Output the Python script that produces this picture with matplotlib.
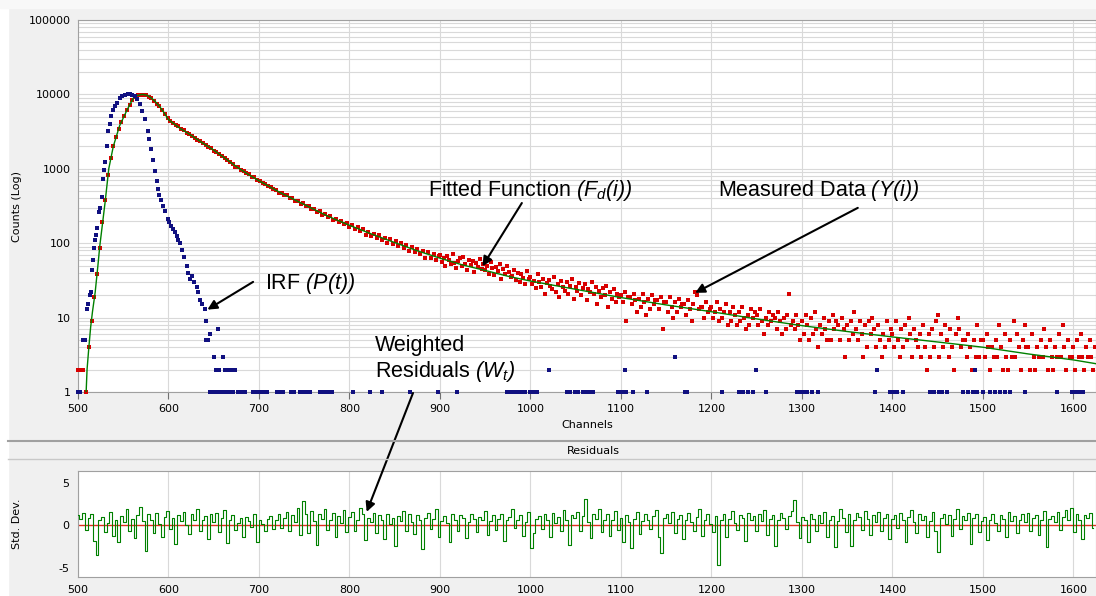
import numpy as np
import matplotlib.pyplot as plt
from matplotlib.patches import Rectangle
from matplotlib.lines import Line2D
from matplotlib.ticker import LogLocator, NullFormatter, FuncFormatter

# math parts of the labels are all italic in the original
plt.rcParams['mathtext.fontset'] = 'custom'
plt.rcParams['mathtext.rm'] = 'Liberation Sans:italic'
plt.rcParams['mathtext.it'] = 'Liberation Sans:italic'
plt.rcParams['axes.unicode_minus'] = False

# fitted function F_d(i)
fit_ch = [509, 510, 512, 514, 516, 519, 522, 524, 527, 530, 534, 539, 546, 554, 561, 566, 571, 576, 580, 585,
          590, 595, 600, 612, 625, 637, 650, 662, 675, 687, 700, 725, 750, 775, 800, 825, 850, 875, 900, 925,
          950, 975, 1000, 1050, 1100, 1150, 1200, 1250, 1300, 1350, 1400, 1450, 1500, 1550, 1600, 1625]
fit_val = [1, 2, 4, 7.5, 12, 22, 50, 90, 180, 360, 1000, 2000, 3800, 6100, 8900, 9700, 10000, 9750, 9120, 8100,
           6920, 5700, 4570, 3550, 2820, 2250, 1780, 1400, 1070, 860, 690, 468, 331, 234, 174, 132, 102, 79, 63, 51,
           43, 36, 31, 24, 18.6, 14.8, 12, 9.6, 7.8, 6.5, 5.5, 4.7, 4.0, 3.25, 2.7, 2.4]

# measured data Y(i): every 3rd channel from 500, then every 2nd channel from 900
meas_head = """
2 2 2 1 4 9 19 38 85 190 380 820 1400 2050 2700 3450 4300 5200 6150 7300 8500 9200 9750 9950 9900
9700 9300 8850 8200 7500 6950 6100 5400 4780 4380 4170 3880 3720 3470 3310 3060 2950 2790 2600 2470
2360 2190 2120 1960 1900 1760 1690 1560 1490 1380 1330 1220 1170 1070 1050 970 945 870 850 780 770 700
695 640 632 580 575 528 525 480 478 440 440 402 405 370 373 340 343 312 318 286 292 263 270 243 248 224
230 207 214 192 200 180 186 167 174 157 164 145 153 128 143 126 135 117 127 112 119 100 113 98 106 91
100 86 95 78 89 75 84 71 79 63 76 64 71 60 67
"""
meas_tail = """
70 56 64 50 67 60 52 71 55 47 58 63 49 66 53 44 60 51 57 41 55 48 61 45 52 43 50 39 56 46 37 48 42 53 33 45 38 49 41 35 36 44 32 40 30 38 34 28 42 33
35 28 31 25 38 30 26 33 21 29 32 27 24 35 22 28 19 31 26 23 30 21 27 33 18 26 23 29 20 25 28 17 24 22 30 21 26 15 23 19 25 20 27 14 22 18 24 16 21 19
20 16 22 9 19 19 15 21 17 12 18 14 21 16 11 18 13 20 15 17 17 13 19 7 16 16 12 19 14 10 16 12 18 14 15 15 11 17 13 9 15 22 20 13 14 14 10 16 12 13
14 10 12 16 9 13 10 12 15 8 12 9 14 11 8 12 9 14 10 7 11 8 13 10 12 11 8 13 9 6 10 8 12 9 11 10 7 12 9 6 10 7 11 21 8 9 7 11 8 5
9 6 11 8 5 10 6 12 7 4 8 6 10 7 5 9 5 11 7 9 8 5 10 7 3 8 5 9 6 12 7 5 9 6 3 8 4 9 6 10 7 4 8 5 3 6 4 9 5 7
6 4 9 5 3 7 4 8 5 10 6 3 7 5 4 6 3 8 4 2 6 3 7 4 9 11 3 6 4 8 5 3 7 4 2 6 10 7 4 5 5 3 6 4 2 5 3 8 3 5
5 3 6 4 2 4 3 5 3 8 4 2 6 3 2 5 3 9 3 6 4 2 5 8 4 4 2 6 3 2 4 3 5 3 7 4 2 5 3 2 4 3 6 3 8 4 2 5 3 3
4 2 5 3 6 3 2 4 3 5 3 2 4
"""
meas_head_val = np.array(meas_head.split(), dtype=float)
meas_tail_val = np.array(meas_tail.split(), dtype=float)
meas_head_ch = 500 + 3 * np.arange(len(meas_head_val))
meas_tail_ch = 900 + 2 * np.arange(len(meas_tail_val))

# instrument response P(t)
irf_ch = [500, 501, 502, 506, 507, 508, 510, 511, 513, 514, 516, 517, 518, 519, 520, 521, 523, 524, 526, 528,
          529, 530, 532, 533, 535, 537, 539, 541, 543, 546, 549, 552, 555, 557, 560, 563, 565, 568, 571, 574,
          577, 579, 581, 583, 585, 587, 588, 590, 592, 594, 596, 599, 601, 603, 605, 607, 609, 611, 613, 615,
          617, 620, 622, 624, 626, 628, 631, 633, 635, 637, 640, 641, 642, 644, 646, 650, 652, 655, 656, 660,
          663, 667, 670, 673]
irf_val = [1, 1, 1, 5, 5, 5, 13, 15, 20, 22, 44, 60, 85, 110, 130, 160, 260, 300, 420, 730,
           950, 1250, 2000, 3200, 4000, 5200, 6100, 6900, 7700, 8900, 9400, 9800, 10000, 10000, 9800, 9500, 8800, 7500, 6000, 4700,
           3200, 2500, 1850, 1300, 920, 680, 540, 440, 380, 320, 270, 210, 190, 170, 155, 140, 125, 110, 100, 80,
           65, 49, 40, 33, 36, 30, 26, 22, 17.5, 15, 13, 9, 5, 5, 6, 3, 2, 7, 2, 3,
           2, 2, 2, 2]
# single counts of the IRF along the baseline
irf_ones = [646, 648, 649, 651, 653, 654, 657, 659, 661, 664, 666, 668, 671, 677, 679, 682, 685, 693, 695, 698,
            701, 704, 706, 709, 720, 723, 727, 735, 739, 745, 748, 752, 756, 767, 771, 775, 778, 781, 804, 823,
            836, 867, 898, 919, 974, 978, 982, 986, 990, 994, 1000, 1004, 1007, 1040, 1044, 1049, 1053, 1058, 1062, 1066,
            1069, 1097, 1101, 1106, 1113, 1129, 1171, 1173, 1212, 1231, 1235, 1240, 1246, 1260, 1295, 1299, 1303, 1306, 1311, 1318,
            1381, 1397, 1401, 1405, 1412, 1442, 1446, 1451, 1455, 1460, 1478, 1483, 1489, 1494, 1500, 1508, 1513, 1519, 1524, 1530,
            1546, 1582, 1598, 1603, 1607, 1611]
irf_few_ch = [1021, 1104, 1160, 1249, 1383, 1491]
irf_few_val = [2, 2, 3, 2, 2, 2]

# weighted residuals, every 3rd channel from 500
resid = """
1.2 0.8 1.5 -0.5 0.9 1.4 -1.8 -3.5 0.6 1.0 -0.8 0.3 1.6 -1.2 0.7 -2.0 1.1 0.4 1.9 -0.6 0.8 -1.5 1.2 2.2 0.5
-3.0 1.3 0.6 -0.9 1.5 0.2 -1.4 1.0 1.7 -0.4 0.9 -2.2 1.2 0.5 1.6 0.1 -1.0 1.4 0.7 1.9 -0.7 0.6 1.1 -1.6 1.3
0.4 1.5 -0.8 0.9 1.8 -2.1 0.6 1.2 -0.5 0.3 0.9 -1.3 1.0 0.5 -0.2 1.4 -1.9 0.7 0.2 -0.6 0.8 1.1 -0.4 0.6 1.3
-0.3 0.9 1.6 -0.7 1.2 0.4 2.0 -1.1 2.9 1.4 -0.9 1.7 0.5 -2.3 1.3 0.8 1.9 -0.5 0.6 1.5 -1.4 1.1 0.3 1.8 -0.8
1.0 1.6 -0.6 0.7 2.1 1.3 -1.7 0.9 0.4 1.5 -0.9 1.2 0.6 -1.6 1.4 0.2 0.9 -2.4 1.1 0.5 1.7 -0.7 1.3 0.4 -1.0
1.2 0.6 -2.8 0.9 1.5 -0.4 0.8 1.9 -1.3 0.5 1.1 0.3 -2.0 1.4 0.7 -0.6 1.2 0.9 -1.5 0.4 1.3 0.8 -0.8 1.0 0.6
1.7 -1.1 0.5 1.2 -0.5 0.8 1.4 -1.8 0.6 1.0 1.9 -0.3 0.7 1.2 -1.2 0.4 1.6 -2.6 -0.9 0.8 1.1 -0.4 1.3 0.6 -1.4
1.5 0.3 1.0 -0.7 1.8 0.6 -2.3 1.2 0.9 1.6 -0.6 1.1 3.1 0.4 -1.5 1.3 0.8 1.9 -0.8 0.6 1.4 -1.2 0.7 1.7 -0.5
0.9 -1.9 1.2 0.4 -2.6 0.8 1.6 -1.0 0.5 1.3 0.7 -0.4 1.1 1.8 -1.3 -3.2 0.9 1.4 0.3 1.6 -0.9 0.8 1.2 -1.6 0.6
1.5 0.4 -0.6 1.0 1.9 -1.2 0.7 1.3 0.2 -0.8 1.1 -4.6 0.6 1.4 -1.4 0.8 1.7 0.3 -0.5 1.2 0.9 -1.8 1.5 0.6 1.1
-0.7 1.3 0.5 1.8 -1.1 0.8 1.2 -2.4 0.6 1.5 0.9 -0.4 1.1 1.7 3.0 0.4 -1.5 1.0 0.6 -2.0 1.4 0.8 -0.6 1.2 0.3
1.6 -1.3 0.7 1.1 -2.5 0.5 1.9 0.9 -0.8 1.3 -2.4 0.6 1.5 1.0 -0.5 1.7 0.8 -1.1 1.2 0.4 1.6 -0.7 0.9 1.4 -1.6
0.8 1.2 -0.3 1.5 0.6 -1.9 1.0 1.8 0.4 -0.9 1.3 0.7 1.1 -1.4 0.5 1.6 -0.6 -3.1 0.9 1.4 0.2 1.2 -1.2 0.8 1.9
-0.4 1.1 0.6 1.5 -2.2 0.9 1.3 -0.8 0.5 1.0 -1.7 0.7 1.4 0.3 -0.6 1.2 0.8 -1.3 1.6 0.5 1.1 -0.9 0.7 1.3 0.4
1.5 -0.7 0.9 1.2 -1.1 0.6 1.7 -2.5 0.8 1.1 0.4 1.6 -0.5 1.0 1.8 0.6 2.1 -0.8 1.3 0.7 -1.6 1.2 0.9 1.5 -0.3
"""
resid_val = np.array(resid.split(), dtype=float)
resid_ch = 500 + 3 * np.arange(len(resid_val))

xticks = list(range(500, 1601, 100))
red = '#d80000'
navy = '#101080'
green = '#008000'
gridc = '#d9d9d9'
spinec = '#a0a0a0'

W, H = 1096, 596
fig = plt.figure(figsize=(W / 100, H / 100), dpi=100, facecolor='#f0f0f0')
fig.patches.append(Rectangle((0, 0), 8 / W, 1, transform=fig.transFigure, color='white', zorder=-5))
fig.patches.append(Rectangle((0, 1 - 8 / H), 1, 8 / H, transform=fig.transFigure, color='#f8f8f8', zorder=-5))

# ---- decay panel ----
ax = fig.add_axes([78 / W, 1 - 392 / H, 1018 / W, 372 / H])
ax.set_facecolor('white')
ax.set_yscale('log')
ax.set_xlim(500, 1625)
ax.set_ylim(1, 1e5)

ax.plot(meas_head_ch, meas_head_val, 's', color=red, ms=2.6, mew=0, clip_on=False, zorder=3)
ax.plot(meas_tail_ch, meas_tail_val, 's', color=red, ms=2.6, mew=0, clip_on=False, zorder=3)
ax.plot(fit_ch, fit_val, color=green, lw=1.0, zorder=4)
ax.plot(irf_ch, irf_val, 's', color=navy, ms=2.6, mew=0, clip_on=False, zorder=5)
ax.plot(irf_ones, np.ones(len(irf_ones)), 's', color=navy, ms=2.6, mew=0, clip_on=False, zorder=5)
ax.plot(irf_few_ch, irf_few_val, 's', color=navy, ms=2.6, mew=0, clip_on=False, zorder=5)

ax.set_xticks(xticks)
ax.yaxis.set_major_locator(LogLocator(base=10, numticks=10))
ax.yaxis.set_minor_locator(LogLocator(base=10, subs=np.arange(2, 10), numticks=50))
ax.yaxis.set_major_formatter(FuncFormatter(lambda v, p: '%d' % round(v)))
ax.yaxis.set_minor_formatter(NullFormatter())
ax.grid(True, axis='x', color=gridc, lw=0.8)
ax.grid(True, axis='y', which='both', color=gridc, lw=0.8)
ax.set_axisbelow(True)
ax.tick_params(axis='x', direction='out', length=5, width=0.8, color='#707070', pad=4, labelsize=8)
ax.tick_params(axis='y', which='both', length=0, pad=5, labelsize=8)
for s in ax.spines.values():
    s.set_color(spinec)
    s.set_linewidth(0.8)
ax.set_xlabel('Channels', fontsize=8, labelpad=4)
ax.set_ylabel('Counts (Log)', fontsize=8)
ax.yaxis.set_label_coords(-0.055, 0.5)

tfont = dict(family='Liberation Sans', fontsize=15.5, va='center', ha='left', transform=ax.transAxes)
arrow = dict(arrowstyle='-|>', color='black', lw=1.5, mutation_scale=14, shrinkA=0, shrinkB=0)
ax.text(0.344, 0.543, r'Fitted Function $(F_d(i))$', **tfont)
ax.annotate('', xy=(947, 49), xytext=(0.436, 0.508), textcoords='axes fraction', arrowprops=arrow)
ax.text(0.629, 0.543, r'Measured Data $(Y(i))$', **tfont)
ax.annotate('', xy=(1182, 21.5), xytext=(0.766, 0.495), textcoords='axes fraction', arrowprops=arrow)
ax.text(0.184, 0.293, r'IRF $(P(t))$', **tfont)
ax.annotate('', xy=(643, 12.8), xytext=(0.172, 0.296), textcoords='axes fraction', arrowprops=arrow)
ax.text(0.292, 0.124, 'Weighted', **tfont)
ax.text(0.292, 0.054, r'Residuals $(W_t)$', **tfont)

# header strip between the panels
fig.add_artist(Line2D([8 / W, 1], [1 - 441 / H] * 2, color=spinec, lw=1.5))
fig.add_artist(Line2D([8 / W, 1], [1 - 459 / H] * 2, color='#c8c8c8', lw=1.0))
fig.text(593 / W, 1 - 451 / H, 'Residuals', ha='center', va='center', fontsize=8)

# ---- residual panel ----
axr = fig.add_axes([78 / W, 1 - 577 / H, 1018 / W, 106 / H])
axr.set_facecolor('white')
axr.set_xlim(500, 1625)
axr.set_ylim(-6.06, 6.41)
axr.axhline(0, color='#e03020', lw=1.0, zorder=2)
axr.step(resid_ch, resid_val, where='mid', color=green, lw=0.8, zorder=3)
axr.set_xticks(xticks)
axr.set_yticks([-5, 0, 5])
axr.grid(True, axis='x', color=gridc, lw=0.8)
axr.set_axisbelow(True)
axr.tick_params(axis='both', length=0, labelsize=8)
axr.tick_params(axis='x', pad=6)
axr.tick_params(axis='y', pad=6)
for s in axr.spines.values():
    s.set_color(spinec)
    s.set_linewidth(0.8)
axr.set_ylabel('Std. Dev.', fontsize=8)
axr.yaxis.set_label_coords(-0.055, 0.5)

axr.annotate('', xy=(819, 1.6), xytext=(413 / W, 1 - 393 / H), textcoords='figure fraction',
             arrowprops=arrow, annotation_clip=False)

fig.savefig('out.png', dpi=100, facecolor=fig.get_facecolor())
